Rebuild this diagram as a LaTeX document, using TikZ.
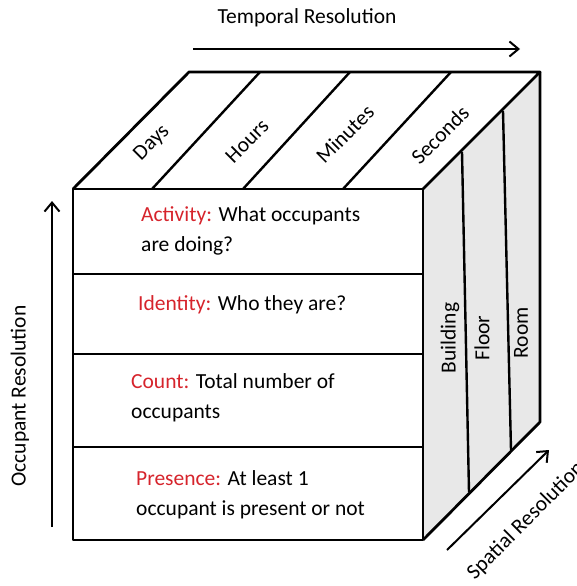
\documentclass[tikz,border=0pt]{standalone}
\usepackage{fontspec}
\setmainfont{Carlito}
\usetikzlibrary{arrows.meta}
\definecolor{lblred}{RGB}{214,36,44}
\definecolor{sidegray}{RGB}{232,232,232}
\begin{document}
\begin{tikzpicture}[x=1pt,y=-1pt,
  edge/.style={line width=2.8pt,line join=round},
  divider/.style={line width=2.4pt},
  axisarrow/.style={line width=2pt,-{Straight Barb[length=9pt,width=15pt,line width=2pt]}},
  lbl/.style={font=\fontsize{21.5}{26}\selectfont,inner sep=0pt},
  body/.style={lbl,anchor=base west},
  key/.style={text=lblred}]
\useasboundingbox (0,0) rectangle (577,586);
% cube corners
\coordinate (A) at (73,189);
\coordinate (B) at (423,189);
\coordinate (C) at (423,540);
\coordinate (D) at (73,540);
\coordinate (E) at (189,72);
\coordinate (F) at (540,72);
\coordinate (G) at (540,422);
% faces
\fill[sidegray] (B) -- (F) -- (G) -- (C) -- cycle;
\fill[white] (A) -- (E) -- (F) -- (B) -- cycle;
% top face dividers (temporal)
\coordinate (t1a) at (152,189); \coordinate (t1b) at (260,72);
\coordinate (t2a) at (243,189); \coordinate (t2b) at (350,72);
\coordinate (t3a) at (343,189); \coordinate (t3b) at (451,72);
\draw[divider] (t1a) -- (t1b) (t2a) -- (t2b) (t3a) -- (t3b);
% side face dividers (spatial)
\coordinate (s1a) at (462,152); \coordinate (s1b) at (469,492);
\coordinate (s2a) at (503,111); \coordinate (s2b) at (511,450);
\draw[divider] (s1a) -- (s1b) (s2a) -- (s2b);
% front face dividers (occupant)
\coordinate (f1a) at (73,274); \coordinate (f1b) at (423,274);
\coordinate (f2a) at (73,354); \coordinate (f2b) at (423,354);
\coordinate (f3a) at (73,447); \coordinate (f3b) at (423,447);
\draw[divider] (f1a) -- (f1b) (f2a) -- (f2b) (f3a) -- (f3b);
% cube outline
\draw[edge] (A) -- (B) -- (C) -- (D) -- cycle;
\draw[edge] (A) -- (E) -- (F) -- (B);
\draw[edge] (F) -- (G) -- (C);
% top labels
\node[lbl,rotate=45] (days) at (152,143) {Days};
\node[lbl,rotate=45] (hours) at (247,141) {Hours};
\node[lbl,rotate=45] (minutes) at (345,134) {Minutes};
\node[lbl,rotate=45] (seconds) at (440,135) {Seconds};
% side labels
\node[lbl,rotate=90] (building) at (450,338) {Building};
\node[lbl,rotate=90] (floor) at (482,338) {Floor};
\node[lbl,rotate=90] (room) at (521,333) {Room};
% front labels
\node[body] (act1) at (141,221) {\textcolor{lblred}{Activity:} What occupants};
\node[body] (act2) at (141,251) {are doing?};
\node[body] (ide1) at (138,310) {\textcolor{lblred}{Identity:} Who they are?};
\node[body] (cnt1) at (131,388) {\textcolor{lblred}{Count:} Total number of};
\node[body] (cnt2) at (131,418) {occupants};
\node[body] (pre1) at (136,485) {\textcolor{lblred}{Presence:} At least 1};
\node[body] (pre2) at (136,515) {occupant is present or not};
% axes
\coordinate (ta) at (193,49); \coordinate (tb) at (520,49);
\draw[axisarrow] (ta) -- (tb);
\node[lbl] (temporal) at (307,18) {Temporal Resolution};
\coordinate (oa) at (52,527); \coordinate (ob) at (52,201);
\draw[axisarrow] (oa) -- (ob);
\node[lbl,rotate=90] (occupant) at (20,396) {Occupant Resolution};
\coordinate (sa) at (447,550); \coordinate (sb) at (549,450);
\draw[axisarrow] (sa) -- (sb);
\node[lbl,rotate=45] (spatial) at (526,521) {Spatial Resolution};
\end{tikzpicture}
\end{document}
